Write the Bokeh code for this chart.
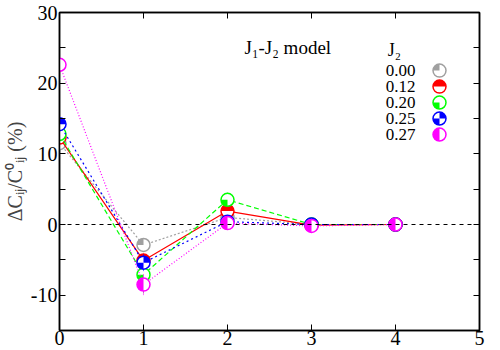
import math
from bokeh.plotting import figure
from bokeh.models import Range1d, FixedTicker, LinearAxis, Label, Span
from bokeh.embed import file_html
from bokeh.resources import INLINE

# ---- data ----
x_vals = [0, 1, 2, 3, 4]
j2_labels = ["0.00", "0.12", "0.20", "0.25", "0.27"]
y_000 = [11.5, -2.9, 1.0, 0.0, 0.0]
y_012 = [12.3, -5.1, 1.9, -0.1, 0.0]
y_020 = [12.8, -7.1, 3.5, 0.0, 0.0]
y_025 = [14.2, -5.4, 0.4, 0.0, 0.0]
y_027 = [22.6, -8.5, 0.2, -0.2, 0.0]
e_000 = [0.8, 0.8, 0.5, 0.1, 0.1]
e_012 = [1.0, 1.0, 0.6, 0.1, 0.1]
e_020 = [1.2, 2.6, 1.0, 0.1, 0.1]
e_025 = [2.0, 1.2, 0.5, 0.1, 0.1]
e_027 = [4.0, 1.5, 0.5, 0.1, 0.1]
x_ticks = [0, 1, 2, 3, 4, 5]
y_ticks = [-10, 0, 10, 20, 30]
y_minor = [-15, -5, 5, 15, 25]

series = [
    (y_000, e_000, "#a0a0a0", "2 2", [(math.pi / 2, math.pi)]),
    (y_012, e_012, "#ff0000", None, [(0, math.pi)]),
    (y_020, e_020, "#00ff00", "5 3", [(math.pi, 1.5 * math.pi)]),
    (y_025, e_025, "#0000ff", "2 3", [(0, math.pi / 2), (math.pi, 1.5 * math.pi)]),
    (y_027, e_027, "#ff00ff", "1 2", [(math.pi / 2, 1.5 * math.pi)]),
]

FONT = "'Liberation Serif'"
R = 6.5
X0, X1, Y0, Y1 = 0, 5, -15, 30

p = figure(frame_width=420, frame_height=318,
           x_range=Range1d(X0, X1), y_range=Range1d(Y0, Y1),
           output_backend="svg", toolbar_location=None,
           min_border_left=55, min_border_right=17, min_border_top=12, min_border_bottom=10,
           styles={"margin-top": "0px"})
p.grid.visible = False
p.outline_line_color = "black"
p.outline_line_width = 1.5
p.background_fill_color = "white"

def style_axis(ax, labels=True, size="20px"):
    ax.axis_line_width = 1.5
    ax.major_tick_in = 6
    ax.major_tick_out = 0
    ax.minor_tick_in = 6
    ax.minor_tick_out = 0
    ax.major_tick_line_width = 1
    ax.minor_tick_line_width = 1
    ax.major_label_text_font = FONT
    ax.major_label_text_font_size = size
    ax.major_label_text_color = "black"
    ax.major_label_standoff = 2
    if not labels:
        ax.major_label_text_font_size = "0px"
        ax.major_label_text_alpha = 0

xa = p.xaxis[0]
xa.ticker = FixedTicker(ticks=x_ticks)
style_axis(xa)
xa.major_label_standoff = 0
ya = p.yaxis[0]
ya.ticker = FixedTicker(ticks=y_ticks, minor_ticks=y_minor)
style_axis(ya)
ya.major_label_overrides = {t: str(t) for t in y_ticks}
ya.axis_label = "ΔCᵢⱼ/C⁰ᵢⱼ (%)"
ya.axis_label_text_font = FONT
ya.axis_label_text_font_style = "normal"
ya.axis_label_text_font_size = "20px"
ya.axis_label_standoff = 2

top = LinearAxis(ticker=FixedTicker(ticks=x_ticks))
style_axis(top, labels=False)
p.add_layout(top, "above")
right = LinearAxis(ticker=FixedTicker(ticks=y_ticks + y_minor))
style_axis(right, labels=False)
p.add_layout(right, "right")

p.add_layout(Span(location=0, dimension="width", line_color="black",
                  line_dash="4 4", line_width=1))

for ys, es, col, dash, wedges in series:
    kw = dict(line_color=col, line_width=1.2)
    if dash:
        kw["line_dash"] = dash
    p.line(x_vals, ys, **kw)
    p.segment(x0=x_vals, y0=[y - e for y, e in zip(ys, es)],
              x1=x_vals, y1=[y + e for y, e in zip(ys, es)],
              line_color=col, line_width=0.8, line_alpha=0.7)
    p.scatter(x_vals, ys, size=2 * R, fill_color="white", line_color=None)
    for a0, a1 in wedges:
        p.wedge(x=x_vals, y=ys, radius=R, radius_units="screen",
                start_angle=a0, end_angle=a1, fill_color=col, line_color=None)
    p.scatter(x_vals, ys, size=2 * R, fill_color=None, line_color=col, line_width=1.5)

# ---- texts & legend, placed by reference pixel position ----
def dx(px):
    return (px - 63) / 84.0

def dy(py):
    return (224 - py) / 7.07

p.add_layout(Label(x=dx(248), y=dy(47), text="J₁-J₂ model", text_font=FONT,
                   text_font_size="19px", text_baseline="middle", text_color="black"))
p.add_layout(Label(x=dx(398), y=dy(49), text="J₂", text_font=FONT,
                   text_font_size="18px", text_align="center", text_baseline="middle",
                   text_color="black"))

leg_rows = [70, 86, 102, 118, 134]
for i, (ys, es, col, dash, wedges) in enumerate(series):
    py = leg_rows[i]
    p.add_layout(Label(x=dx(419), y=dy(py), text=j2_labels[i], text_font=FONT,
                       text_font_size="17px", text_align="right", text_baseline="middle",
                       text_color="black"))
    lx, ly = [dx(443)], [dy(py)]
    p.scatter(lx, ly, size=2 * R, fill_color="white", line_color=None)
    for a0, a1 in wedges:
        p.wedge(x=lx, y=ly, radius=R, radius_units="screen",
                start_angle=a0, end_angle=a1, fill_color=col, line_color=None)
    p.scatter(lx, ly, size=2 * R, fill_color=None, line_color=col, line_width=1.5)

open("out.html", "w").write(file_html(p, INLINE))
